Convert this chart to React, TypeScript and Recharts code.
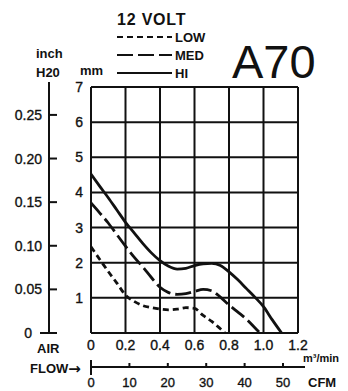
import React from 'react';
import { ComposedChart, Line, XAxis, YAxis, CartesianGrid } from 'recharts';

// ---- data ----
const flowTicks = [0, 0.2, 0.4, 0.6, 0.8, 1.0, 1.2];
const mmTicks = [0, 1, 2, 3, 4, 5, 6, 7];
const inchTicks = [0, 0.05, 0.1, 0.15, 0.2, 0.25];
const inchLabels = ['0', '0.05', '0.10', '0.15', '0.20', '0.25'];
const cfmTicks = [0, 10, 20, 30, 40, 50];

const hiFlow = [0, 0.05, 0.1, 0.15, 0.2, 0.25, 0.3, 0.35, 0.4, 0.45, 0.5, 0.55, 0.6, 0.65, 0.7, 0.75, 0.8, 0.85, 0.9, 0.95, 1.0, 1.05, 1.105];
const hiMm = [4.52, 4.18, 3.85, 3.5, 3.15, 2.85, 2.55, 2.28, 2.06, 1.9, 1.82, 1.84, 1.92, 1.97, 1.98, 1.92, 1.74, 1.52, 1.27, 1.02, 0.75, 0.38, 0];

const medFlow = [0, 0.05, 0.1, 0.15, 0.2, 0.25, 0.3, 0.35, 0.4, 0.45, 0.5, 0.55, 0.6, 0.65, 0.7, 0.75, 0.8, 0.85, 0.9, 0.95, 0.98];
const medMm = [3.7, 3.42, 3.13, 2.8, 2.47, 2.16, 1.88, 1.58, 1.3, 1.15, 1.1, 1.12, 1.18, 1.24, 1.2, 1.02, 0.8, 0.6, 0.4, 0.15, 0];

const lowFlow = [0, 0.05, 0.1, 0.15, 0.2, 0.25, 0.3, 0.35, 0.4, 0.45, 0.5, 0.55, 0.6, 0.65, 0.7, 0.75, 0.777];
const lowMm = [2.45, 2.1, 1.75, 1.42, 1.08, 0.9, 0.78, 0.72, 0.68, 0.66, 0.68, 0.72, 0.7, 0.5, 0.33, 0.12, 0];

const series = [
  { name: 'LOW', flow: lowFlow, mm: lowMm, dash: '6 4' },
  { name: 'MED', flow: medFlow, mm: medMm, dash: '16 5' },
  { name: 'HI', flow: hiFlow, mm: hiMm, dash: undefined as string | undefined },
];

const toRows = (f: number[], m: number[]) => f.map((v, i) => ({ flow: v, mm: m[i] }));
const cfmRows = cfmTicks.map((c) => ({ cfm: c }));

const FONT = "'Liberation Sans Narrow', 'Liberation Sans', Arial, sans-serif";
const INK = '#111';

const InchTick = (props: any) => {
  const { x, y, payload, index } = props;
  const isZero = payload.value === 0;
  return (
    <g>
      <line x1={isZero ? x - 9 : x} x2={x + 8} y1={y} y2={y} stroke={INK} strokeWidth={2} />
      <text x={isZero ? x - 17 : x - 7} y={y} dy="0.36em" textAnchor="end" fontFamily={FONT} fontSize={14} stroke={INK} strokeWidth={0.35} fill={INK}>
        {inchLabels[index] ?? String(payload.value)}
      </text>
    </g>
  );
};

const CfmTick = (props: any) => {
  const { x, y, payload } = props;
  const isZero = payload.value === 0;
  return (
    <g>
      <line x1={x} x2={x} y1={isZero ? y - 7 : y - 4} y2={isZero ? y + 8 : y} stroke={INK} strokeWidth={2} />
      <text x={x} y={y + 20} textAnchor="middle" fontFamily={FONT} fontSize={13} stroke={INK} strokeWidth={0.35} fill={INK}>
        {payload.value}
      </text>
    </g>
  );
};

const tickStyle = { fontFamily: FONT, fontSize: 14, fill: INK, stroke: INK, strokeWidth: 0.35 };

export default function App() {
  return (
    <div style={{ position: 'absolute', left: 0, top: 0, width: 348, height: 391, background: '#fff' }}>
      <ComposedChart width={348} height={391} data={cfmRows} margin={{ top: 87, right: 50, bottom: 0, left: 0 }}>
        <CartesianGrid xAxisId="a_m3" yAxisId="a_mm" stroke={INK} strokeWidth={2} />
        <XAxis
          xAxisId="a_m3"
          dataKey="flow"
          type="number"
          domain={[0, 1.2]}
          ticks={flowTicks}
          interval={0}
          allowDataOverflow
          axisLine={false}
          tickLine={false}
          tickSize={0}
          tickMargin={7}
          height={34}
          tickFormatter={(v: number) => (v === 0 ? '0' : v.toFixed(1))}
          tick={tickStyle}
        />
        <XAxis
          xAxisId="b_cfm"
          dataKey="cfm"
          type="number"
          domain={[0, 53.9]}
          ticks={cfmTicks}
          interval={0}
          allowDataOverflow
          axisLine={{ stroke: INK, strokeWidth: 2 }}
          tickLine={false}
          tickSize={0}
          tickMargin={0}
          height={24}
          tick={<CfmTick />}
        />
        <YAxis
          yAxisId="a_mm"
          type="number"
          domain={[0, 7]}
          ticks={mmTicks}
          interval={0}
          allowDataOverflow
          axisLine={false}
          tickLine={false}
          tickSize={0}
          tickMargin={8}
          width={42}
          tickFormatter={(v: number) => (v === 0 ? '' : String(v))}
          tick={tickStyle}
        />
        <YAxis
          yAxisId="b_inch"
          type="number"
          domain={[0, 0.282]}
          ticks={inchTicks}
          interval={0}
          allowDataOverflow
          axisLine={{ stroke: INK, strokeWidth: 2 }}
          tickLine={false}
          tickSize={0}
          tickMargin={0}
          width={49}
          tick={<InchTick />}
        />
        {series.map((s) => (
          <Line
            key={s.name}
            xAxisId="a_m3"
            yAxisId="a_mm"
            data={toRows(s.flow, s.mm)}
            dataKey="mm"
            type="monotone"
            stroke={INK}
            strokeWidth={2.8}
            strokeDasharray={s.dash}
            dot={false}
            activeDot={false}
            isAnimationActive={false}
          />
        ))}
      </ComposedChart>
      <svg width={348} height={391} style={{ position: 'absolute', left: 0, top: 0, pointerEvents: 'none' }}>
        {/* axis line extensions as in the original print */}
        <line x1={49} x2={49} y1={82} y2={88} stroke={INK} strokeWidth={2} />
        <line x1={297} x2={305} y1={367} y2={367} stroke={INK} strokeWidth={2} />
        <text x={117} y={25} fontFamily="'Liberation Sans', Arial, sans-serif" fontWeight="bold" fontSize={16} letterSpacing={0.8} fill={INK}>12 VOLT</text>
        {series.map((s, i) => (
          <g key={s.name}>
            <line x1={117} x2={172} y1={37 + i * 18} y2={37 + i * 18} stroke={INK} strokeWidth={2} strokeDasharray={s.dash} />
            <text x={175} y={42 + i * 18} fontFamily={FONT} fontWeight="bold" fontSize={13} fill={INK}>{s.name}</text>
          </g>
        ))}
        <text x={232} y={78} fontFamily={FONT} fontSize={47} fill={INK}>A70</text>
        <text x={36} y={58} fontFamily={FONT} fontWeight="bold" fontSize={13} fill={INK}>inch</text>
        <text x={36} y={77} fontFamily={FONT} fontWeight="bold" fontSize={13} fill={INK}>H20</text>
        <text x={80} y={75} fontFamily={FONT} fontWeight="bold" fontSize={13} fill={INK}>mm</text>
        <text x={37} y={353} fontFamily={FONT} fontWeight="bold" fontSize={13} fill={INK}>AIR</text>
        <text x={30} y={373} fontFamily={FONT} fontWeight="bold" fontSize={13} fill={INK}>
          FLOW<tspan fontFamily="'DejaVu Sans', sans-serif" fontSize={15} dy={1}>→</tspan>
        </text>
        <text x={303} y={362} fontFamily={FONT} fontWeight="bold" fontSize={11} fill={INK}>m³/min</text>
        <text x={308} y={387} fontFamily={FONT} fontWeight="bold" fontSize={13} fill={INK}>CFM</text>
      </svg>
    </div>
  );
}
